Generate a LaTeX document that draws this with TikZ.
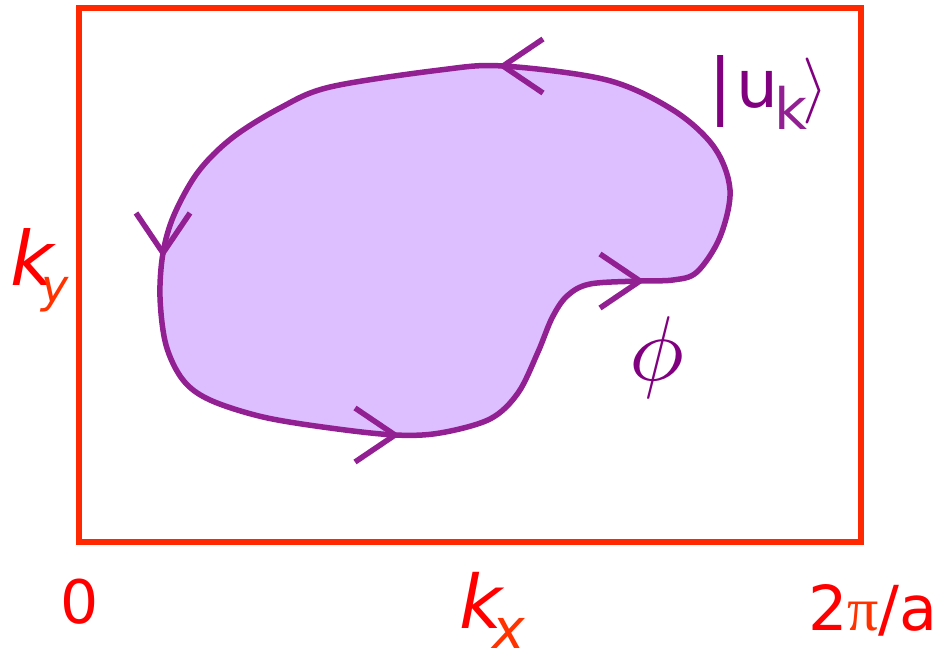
\documentclass[tikz,border=0pt]{standalone}
\usepackage{fontspec}
\setmainfont{DejaVu Sans}
\newfontfamily\grkserif{Liberation Serif}
\definecolor{boxred}{RGB}{255,40,0}
\definecolor{txtred}{RGB}{255,0,0}
\definecolor{subred}{RGB}{255,50,0}
\definecolor{loopc}{RGB}{146,32,146}
\definecolor{loopfill}{RGB}{221,190,255}
\definecolor{labpurple}{RGB}{128,0,128}
\tikzset{
  zonebox/.style={draw=boxred, line width=6pt},
  loopline/.style={draw=loopc, fill=loopfill, line width=5.5pt},
  headline/.style={draw=loopc, line width=5.5pt},
  vhead/.pic={\draw[headline] (-40,27) -- (0,0) -- (-40,-27);},
  redlab/.style={text=txtred, inner sep=0pt},
  purplab/.style={text=labpurple, inner sep=0pt},
}
\begin{document}
\begin{tikzpicture}[x=1pt,y=-1pt]
\useasboundingbox (0,0) rectangle (939,650);
% Brillouin zone
\draw[zonebox] (79,8) rectangle (861,542);
% loop
\path[loopline] plot[smooth cycle, tension=0.55] coordinates {
 (503,66) (440,70) (330,87) (280,108) (232,138) (198,172) (174,215) (163,253)
 (160,297) (166,345) (183,380) (210,400) (263,417) (330,428) (395,435) (440,433)
 (490,419) (518,393) (538,352) (552,318) (567,296) (590,284) (640,281) (673,280)
 (697,272) (720,237) (730,190) (714,147) (673,110) (607,80)};
% arrowheads
\pic[rotate=180] at (503,66) {vhead};
\pic[rotate=-90] at (163,253) {vhead};
\pic at (395,435) {vhead};
\pic at (640,281) {vhead};
% labels
\node[redlab, font=\fontsize{75}{75}\selectfont\itshape, anchor=base west] (ky) at (10,285)
  {k\kern-12pt{\color{subred}\fontsize{46}{46}\selectfont\raisebox{-17pt}{y}}};
\node[redlab, font=\fontsize{74}{74}\selectfont\itshape, anchor=base west] (kx) at (459,628)
  {k\kern-10pt{\color{subred}\fontsize{55}{55}\selectfont\raisebox{-20pt}{x}}};
\node[redlab, font=\fontsize{60}{60}\selectfont, anchor=base] (zero) at (80,623) {0};
\node[redlab, font=\fontsize{62}{62}\selectfont, anchor=base east] (twopi) at (938,630) {2{\grkserif\color{subred}π}/a};
\node[purplab, anchor=base] (phi) at (657,380) {\scalebox{9.2}{$\phi$}};
\node[purplab, font=\fontsize{72}{72}\selectfont, anchor=base] (ketbar) at (721,111) {|};
\node[purplab, font=\fontsize{66}{66}\selectfont, anchor=base] (ketu) at (757,108) {u};
\node[purplab, text=loopc, font=\fontsize{57}{57}\selectfont, anchor=base] (ketk) at (791,130) {k};
\node[purplab] (ketr) at (815,91) {\scalebox{6.6}{$\rangle$}};
\end{tikzpicture}
\end{document}
